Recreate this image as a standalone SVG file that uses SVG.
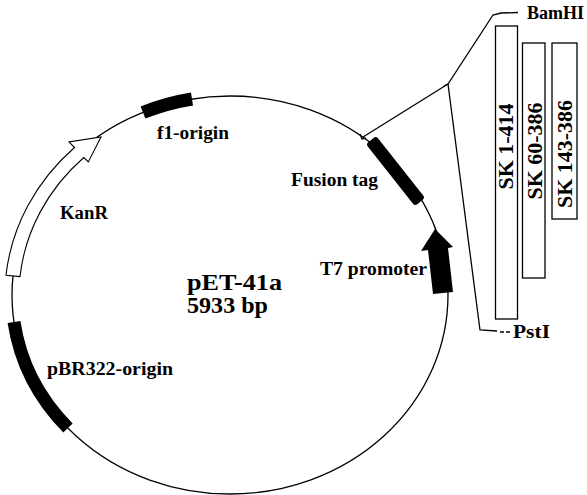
<svg xmlns="http://www.w3.org/2000/svg" width="587" height="495" viewBox="0 0 587 495">
<style>
.t{font-family:"Liberation Serif","Times New Roman",serif;font-weight:bold;fill:#000}
.s18{font-size:18px}
.s23{font-size:23px}
.s22{font-size:22px}
.ln{fill:none;stroke:#000;stroke-width:1.3}
.blk{fill:none;stroke:#000;stroke-width:13}
.box{fill:#fff;stroke:#000;stroke-width:1.3}
</style>
<rect width="587" height="495" fill="#fff"/>
<g id="plasmid">
<ellipse class="ln" cx="230" cy="295" rx="218" ry="199"/>
</g>
<g id="f1-origin">
<path class="blk" d="M143,112.5 A218 199 0 0 1 192,99"/>
<text class="t s18" x="157" y="139" textLength="72" lengthAdjust="spacingAndGlyphs">f1-origin</text>
</g>
<g id="kanr">
<path d="M6,275.3 A225 206 0 0 1 74.5,147.5 L69,142 L101,137 L88.3,161.9 L83.8,157.5 A211 192 0 0 0 20,276.6 Z" fill="#fff" stroke="#000" stroke-width="1.1"/>
<text class="t s18" x="60" y="219" textLength="48" lengthAdjust="spacingAndGlyphs">KanR</text>
</g>
<g id="pbr322-origin">
<path class="blk" d="M14,322 A218 199 0 0 0 68,428" stroke-width="14"/>
<text class="t s18" x="47" y="375" textLength="126" lengthAdjust="spacingAndGlyphs">pBR322-origin</text>
</g>
<g id="fusion-tag">
<rect x="-39.5" y="-6.5" width="79" height="13" rx="3" transform="translate(395.5,171) rotate(51.7)" fill="#000"/>
<path class="ln" d="M360,134 L362,139 L366,138"/>
<text class="t s18" x="291" y="186" textLength="87" lengthAdjust="spacingAndGlyphs">Fusion tag</text>
</g>
<g id="t7-promoter">
<polygon points="435,229 453,247 448,248 453,292 433,294 428,250 421,251" fill="#000"/>
<text class="t s18" x="320" y="275" font-size="19" textLength="107" lengthAdjust="spacingAndGlyphs">T7 promoter</text>
</g>
<g id="plasmid-label">
<text class="t s23" x="187" y="290" textLength="95" lengthAdjust="spacingAndGlyphs">pET-41a</text>
<text class="t s23" x="187" y="313" textLength="81" lengthAdjust="spacingAndGlyphs">5933 bp</text>
</g>
<g id="sk-1-414">
<rect class="box" x="495.5" y="26" width="22" height="293"/>
<text class="t s22" transform="translate(513,146.5) rotate(-90)" text-anchor="middle">SK 1-414</text>
</g>
<g id="sk-60-386">
<rect class="box" x="522.5" y="43" width="22.5" height="235"/>
<text class="t s22" transform="translate(542,151) rotate(-90)" text-anchor="middle">SK 60-386</text>
</g>
<g id="sk-143-386">
<rect class="box" x="552" y="43" width="25" height="176"/>
<text class="t s22" transform="translate(572,154) rotate(-90)" text-anchor="middle">SK 143-386</text>
</g>
<g id="bamhi">
<text class="t s18" x="527" y="19">BamHI</text>
</g>
<g id="psti">
<text class="t s18" x="513" y="338" textLength="37" lengthAdjust="spacingAndGlyphs">PstI</text>
</g>
<g id="connectors">
<path class="ln" d="M363,137 L448,84"/>
<path class="ln" d="M444,86 L448,84 L493,15 L501,13 L518,12.5"/>
<path class="ln" d="M448,84 L480,330 L497,331"/>
<path class="ln" d="M500,332 L504,332 M506,332 L510,332"/>
</g>
</svg>
